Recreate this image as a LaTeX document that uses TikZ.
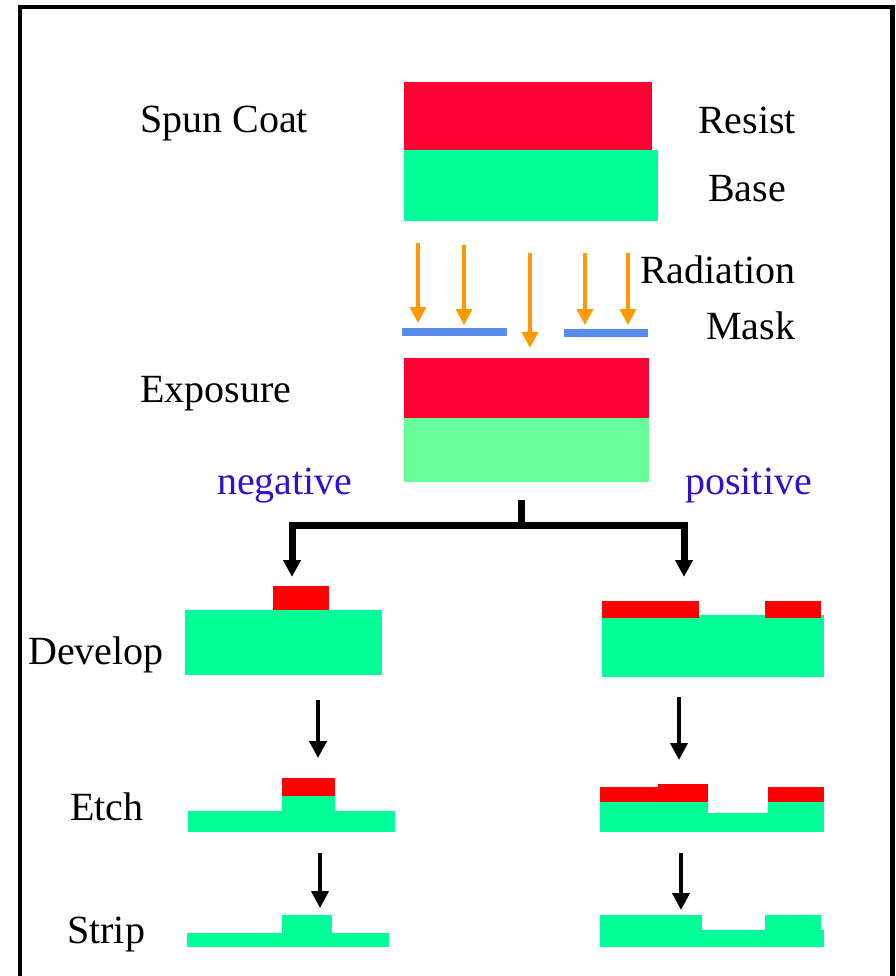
\documentclass[tikz,border=0pt]{standalone}
\usepackage{fontspec}
\setmainfont{Liberation Serif}
\newfontfamily\lblfont{Liberation Serif}
\usetikzlibrary{arrows.meta}
\definecolor{resistred}{RGB}{255,0,51}
\definecolor{devred}{RGB}{255,0,0}
\definecolor{basegreen}{RGB}{0,255,153}
\definecolor{litegreen}{RGB}{102,255,153}
\definecolor{rayorange}{RGB}{255,153,0}
\definecolor{maskblue}{RGB}{90,140,235}
\definecolor{tonblue}{RGB}{51,17,204}
\tikzset{
  lbl/.style={font=\lblfont\fontsize{40}{48}\selectfont, inner sep=0pt, anchor=base west},
  tone/.style={lbl, text=tonblue},
  ray/.style={draw=rayorange, line width=3.5pt, -{Triangle[width=16pt,length=16pt]}},
  stepar/.style={draw=black, line width=4pt, -{Triangle[width=17pt,length=17pt]}},
  branch/.style={draw=black, line width=7pt},
  maskbar/.style={draw=maskblue, line width=8pt},
}
\begin{document}
\begin{tikzpicture}[x=1pt,y=-1pt]
\useasboundingbox (0,0) rectangle (895,976);
\fill[white] (0,0) rectangle (895,976);
% outer frame, open at the bottom
\draw[line width=4.5pt] (20,976) -- (20,7) -- (892.5,7) -- (892.5,976);

% spun coat stack
\fill[resistred] (404,82) rectangle (652,150);
\fill[basegreen] (404,150) rectangle (658,221);
\node[lbl] (spun) at (140,133) {Spun Coat};
\node[lbl] (resist) at (698,134) {Resist};
\node[lbl] (base) at (708,202) {Base};

% radiation through the mask
\coordinate (r1s) at (418,243); \coordinate (r1e) at (418,323);
\coordinate (r2s) at (464,245); \coordinate (r2e) at (464,325);
\coordinate (r3s) at (530,253); \coordinate (r3e) at (530,348);
\coordinate (r4s) at (585,253); \coordinate (r4e) at (585,325);
\coordinate (r5s) at (628,253); \coordinate (r5e) at (628,325);
\foreach \i in {1,...,5} \draw[ray] (r\i s) -- (r\i e);
\coordinate (m1a) at (402,332); \coordinate (m1b) at (507,332);
\coordinate (m2a) at (564,333); \coordinate (m2b) at (648,333);
\draw[maskbar] (m1a) -- (m1b);
\draw[maskbar] (m2a) -- (m2b);
\node[lbl] (radiation) at (640,283) {Radiation};
\node[lbl] (mask) at (706,339) {Mask};

% exposed stack
\fill[resistred] (404,358) rectangle (649,418);
\fill[litegreen] (404,418) rectangle (649,482);
\node[lbl] (exposure) at (140,402) {Exposure};
\node[tone] (neg) at (217,494) {negative};
\node[tone] (pos) at (685,494) {positive};

% split into the two resist tones
\coordinate (stem) at (521,500);
\coordinate (fork) at (521,525);
\coordinate (forkL) at (292,525);
\coordinate (forkR) at (684,525);
\coordinate (devL) at (292,577);
\coordinate (devR) at (684,577);
\draw[branch] (stem) -- (fork);
\draw[branch, line cap=rect] (forkL) -- (forkR);
\draw[branch, -{Triangle[width=17pt,length=17pt]}] (forkL) -- (devL);
\draw[branch, -{Triangle[width=17pt,length=17pt]}] (forkR) -- (devR);

% develop
\node[lbl] (develop) at (28,664) {Develop};
\fill[basegreen] (185,610) rectangle (382,675);
\fill[devred] (273,586) rectangle (329,610);
\fill[basegreen] (602,615) rectangle (824,677);
\fill[devred] (602,601) rectangle (699,618);
\fill[devred] (765,601) rectangle (821,618);

% develop to etch
\coordinate (a1s) at (318,700); \coordinate (a1e) at (318,758);
\coordinate (a2s) at (679,697); \coordinate (a2e) at (679,760);
\draw[stepar] (a1s) -- (a1e);
\draw[stepar] (a2s) -- (a2e);

% etch
\node[lbl] (etch) at (70,820) {Etch};
\fill[basegreen] (188,811) rectangle (395,832);
\fill[basegreen] (282,796) rectangle (335,811);
\fill[devred] (282,778) rectangle (335,796);
\fill[basegreen] (600,802) rectangle (708,832);
\fill[basegreen] (708,813) rectangle (768,832);
\fill[basegreen] (768,802) rectangle (824,832);
\fill[devred] (600,787) rectangle (708,802);
\fill[devred] (658,784) rectangle (708,802);
\fill[devred] (768,787) rectangle (824,802);

% etch to strip
\coordinate (b1s) at (320,853); \coordinate (b1e) at (320,908);
\coordinate (b2s) at (681,853); \coordinate (b2e) at (681,910);
\draw[stepar] (b1s) -- (b1e);
\draw[stepar] (b2s) -- (b2e);

% strip
\node[lbl] (strip) at (67,943) {Strip};
\fill[basegreen] (187,933) rectangle (389,947);
\fill[basegreen] (282,915) rectangle (332,933);
\fill[basegreen] (600,930) rectangle (824,947);
\fill[basegreen] (600,915) rectangle (702,930);
\fill[basegreen] (765,915) rectangle (821,930);
\end{tikzpicture}
\end{document}
